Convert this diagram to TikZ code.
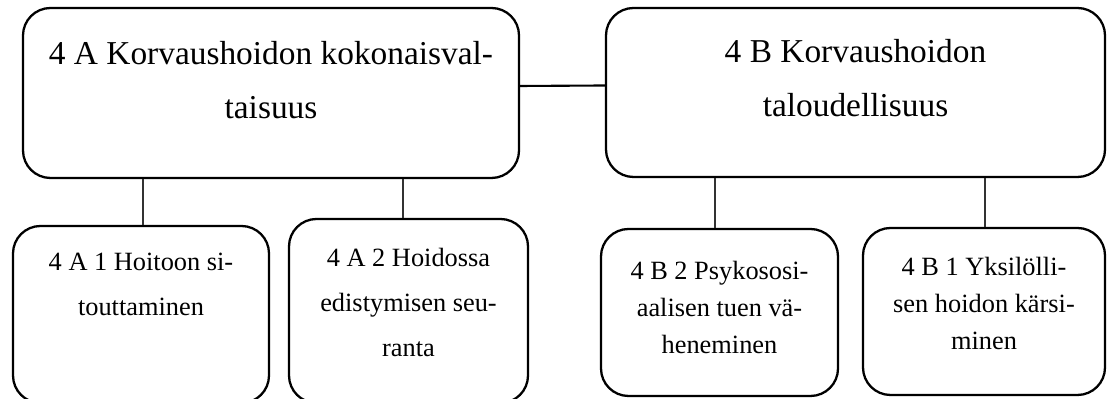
\documentclass[tikz,border=0pt]{standalone}
\usepackage{fontspec}
\setmainfont{Liberation Serif}
\usepackage{tikz}
\usetikzlibrary{positioning,calc}

\begin{document}
\begin{tikzpicture}[x=1cm,y=1cm,
  frame/.style={draw=black, line width=1.3pt, rounded corners=0.55cm, inner sep=0pt},
  bigtxt/.style={font=\fontsize{19}{31}\selectfont, align=center, anchor=north, inner sep=0pt},
  subtxtA/.style={font=\fontsize{15}{25.5}\selectfont, align=center, anchor=north, inner sep=0pt},
  subtxtB/.style={font=\fontsize{15}{21}\selectfont, align=center, anchor=north, inner sep=0pt},
  link/.style={line width=0.6pt, draw=black!80},
  ]
\useasboundingbox (0,0) rectangle (22.14,7.98);

% === top level
\node[frame, minimum width=9.92cm, minimum height=3.40cm] (kokA) at (5.42,6.12) {};
\node[frame, minimum width=9.98cm, minimum height=3.38cm] (talB) at (17.11,6.13) {};
\node[bigtxt] (kokAtxt) at (5.42,7.17) {4 A Korvaushoidon kokonaisval-\\taisuus};
\node[bigtxt] (talBtxt) at (17.11,7.21) {4 B Korvaushoidon\\taloudellisuus};
\draw[line width=1.2pt] ([yshift=0.14cm]kokA.east) -- ([yshift=0.14cm]talB.west);

% === second level
\node[frame, minimum width=5.12cm, minimum height=3.54cm] (subA1) at (2.82,1.69) {};
\node[frame, minimum width=4.78cm, minimum height=3.68cm] (subA2) at (8.17,1.76) {};
\node[frame, minimum width=4.74cm, minimum height=3.34cm] (subB2) at (14.39,1.73) {};
\node[frame, minimum width=4.84cm, minimum height=3.34cm] (subB1) at (19.68,1.75) {};
\node[subtxtA] (subA1txt) at (2.82,2.92) {4 A 1 Hoitoon si-\\touttaminen};
\node[subtxtA] (subA2txt) at (8.17,3.02) {4 A 2 Hoidossa\\edistymisen seu-\\ranta};
\node[subtxtB] (subB2txt) at (14.39,2.76) {4 B 2 Psykososi-\\aalisen tuen vä-\\heneminen};
\node[subtxtB] (subB1txt) at (19.68,2.84) {4 B 1 Yksilölli-\\sen hoidon kärsi-\\minen};

% === links down
\foreach \kid/\top/\dx in {subA1/kokA/0.04, subA2/kokA/-0.11, subB2/talB/-0.09, subB1/talB/0.02}
  \draw[link] ([xshift=\dx cm]\kid.north) -- ([xshift=\dx cm]\kid.north |- \top.south);

\end{tikzpicture}
\end{document}
